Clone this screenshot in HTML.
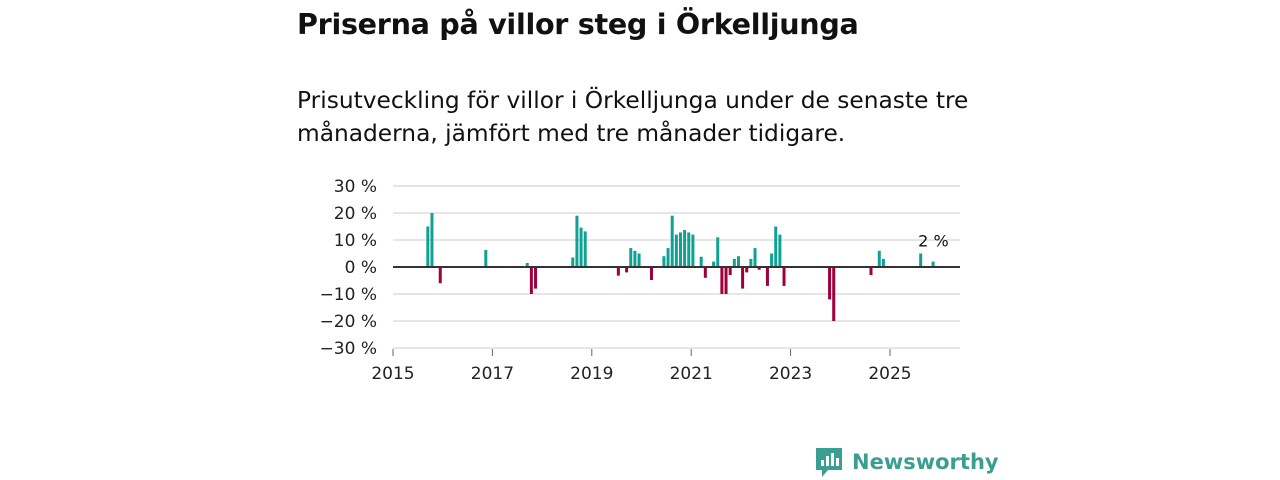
<!DOCTYPE html>
<html><head><meta charset="utf-8"><style>
body{margin:0;background:#fff;font-family:"Liberation Sans","DejaVu Sans",sans-serif;}
#wrap{position:relative;width:1280px;height:480px;overflow:hidden}
h1{position:absolute;left:297px;top:7px;margin:0;font-size:28.6px;font-weight:bold;color:#111;font-family:"DejaVu Sans",sans-serif;letter-spacing:-0.3px}
p{position:absolute;left:297px;top:84px;margin:0;font-size:23.3px;line-height:33px;color:#111;font-family:"DejaVu Sans",sans-serif;width:740px}
svg{position:absolute;left:0;top:0}
</style></head><body><div id="wrap">
<h1>Priserna på villor steg i Örkelljunga</h1>
<p>Prisutveckling för villor i Örkelljunga under de senaste tre månaderna, jämfört med tre månader tidigare.</p>
<svg id="c" width="1280" height="480"></svg>
</div>
<script>
const months=[8,9,11,22,32,33,34,43,44,45,46,54,56,57,58,59,62,65,66,67,68,69,70,71,72,74,75,77,78,79,80,81,82,83,84,85,86,87,88,90,91,92,93,94,105,106,115,117,118,127,130];
const values=[15,20,-6,6.3,1.5,-10,-8,3.5,19,14.6,13.2,-3.2,-2,7,6,5,-4.8,4,7,19,12,12.8,13.7,12.8,12,3.8,-4,2,11,-10,-10,-3,3,4,-8,-2,3,7,-1,-7,5,15,12,-7,-12,-20,-3,6,3,5,2];
const yTicks=[30,20,10,0,-10,-20,-30];
const xYears=[2015,2017,2019,2021,2023,2025];
const NS="http://www.w3.org/2000/svg",svg=document.getElementById('c');
const x=m=>393+m*49.7/12;
const y=v=>267-v*2.7;
function el(t,a,txt){const e=document.createElementNS(NS,t);for(const k in a)e.setAttribute(k,a[k]);if(txt!==undefined)e.textContent=txt;svg.appendChild(e);return e;}
yTicks.forEach(t=>{
 const g=el('line',{x1:393,x2:960,y1:y(t),y2:y(t),stroke:'#ddd','stroke-width':1.5});
 
 
 const l=el('text',{x:377,y:y(t)+6,'text-anchor':'end','font-size':17,fill:'#222','font-family':'DejaVu Sans, sans-serif'},(t<0?'\u2212'+(-t):t)+' %');
 
 
});
months.forEach((m,i)=>{
 const v=values[i];
 const r=el('rect',{x:x(m)+0.2,width:3,y:v>=0?y(v):y(0),height:Math.abs(v)*2.7,fill:v>=0?'#10a193':'#a0003a'});
 
 
});
const z=el('line',{x1:393,x2:960,y1:y(0),y2:y(0),stroke:'#333','stroke-width':2});


xYears.forEach(yr=>{
 const px=x((yr-2015)*12);
 const tk=el('line',{x1:px,x2:px,y1:349,y2:356,stroke:'#666'});
 
 
 const l=el('text',{x:px,y:379,'text-anchor':'middle','font-size':17,fill:'#222','font-family':'DejaVu Sans, sans-serif'},yr);
 
 
});
const li=values.length-1;
const lb=el('text',{x:x(months[li])+2,y:y(values[li])-15,'text-anchor':'middle','font-size':16,fill:'#111','font-family':'DejaVu Sans, sans-serif'},values[li]+' %');


</script>
<svg width="1280" height="480" style="position:absolute;left:0;top:0">
<path d="M816 448h26v22h-14l-6 7v-7h-6z" fill="#3a9e92"/>
<rect x="821" y="460" width="3" height="6" fill="#fff"/><rect x="826" y="456" width="3" height="10" fill="#fff"/><rect x="831" y="453" width="3" height="13" fill="#fff"/><rect x="836" y="458" width="3" height="8" fill="#fff"/>
<text x="852" y="469" font-size="21" font-weight="bold" fill="#3a9e92" font-family="DejaVu Sans, sans-serif">Newsworthy</text>
</svg>
</body></html>
